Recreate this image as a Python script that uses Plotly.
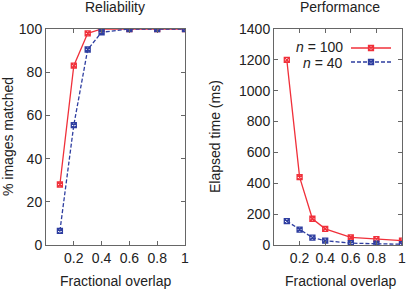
import plotly.graph_objects as go

overlap = [0.1, 0.2, 0.3, 0.4, 0.6, 0.8, 1.0]
rel_n100 = [28, 83, 98, 100, 100, 100, 100]
rel_n40 = [6.5, 55.5, 90.5, 98.5, 100, 100, 100]
perf_n100 = [1200, 440, 170, 105, 50, 38, 28]
perf_n40 = [155, 100, 48, 28, 12, 8, 5]
x_ticks = [0.2, 0.4, 0.6, 0.8, 1.0]
x_ticklabels = ["0.2", "0.4", "0.6", "0.8", "1"]
series_names = ["<i>n</i> = 100", "<i>n</i> = 40"]

RED = "#f0303a"
BLUE = "#2e3ea0"
FONT = "Liberation Sans, Arial, sans-serif"
FS = 14

fig = go.Figure()
mk = dict(symbol="square-x-open", size=5, line=dict(width=1.3))
solid = dict(color=RED, width=1.3)
dashed = dict(color=BLUE, width=1.3, dash="4px,2px")
fig.add_trace(go.Scatter(x=overlap, y=rel_n100, mode="lines+markers", xaxis="x", yaxis="y",
                         line=solid, marker=dict(color=RED, **mk), showlegend=False))
fig.add_trace(go.Scatter(x=overlap, y=rel_n40, mode="lines+markers", xaxis="x", yaxis="y",
                         line=dashed, marker=dict(color=BLUE, **mk), showlegend=False))
fig.add_trace(go.Scatter(x=overlap, y=perf_n100, mode="lines+markers", xaxis="x2", yaxis="y2",
                         line=solid, marker=dict(color=RED, **mk), name="", showlegend=True, legend="legend"))
fig.add_trace(go.Scatter(x=overlap, y=perf_n40, mode="lines+markers", xaxis="x2", yaxis="y2",
                         line=dashed, marker=dict(color=BLUE, **mk), name="", showlegend=True, legend="legend2"))

axcommon = dict(showline=True, mirror="allticks", linecolor="#666", linewidth=1, ticks="inside",
                ticklen=4, tickcolor="#666", showgrid=False, zeroline=False, automargin=False,
                tickfont=dict(family=FONT, size=FS, color="#222"))

y_top = (290 - 29) / 290
y_bot = (290 - 245) / 290
leg = dict(x=346 / 407, xanchor="left", yanchor="middle", bgcolor="rgba(0,0,0,0)",
           font=dict(size=10), itemwidth=40, borderwidth=0)
fig.update_layout(
    width=407, height=290, margin=dict(l=0, r=0, t=0, b=0, autoexpand=False),
    paper_bgcolor="white", plot_bgcolor="white",
    font=dict(family=FONT, size=FS, color="#222"),
    xaxis=dict(domain=[46 / 407, 185 / 407], range=[0, 1], tickvals=x_ticks, ticktext=x_ticklabels, anchor="y", **axcommon),
    yaxis=dict(domain=[y_bot, y_top], range=[0, 100], dtick=20, anchor="x", **axcommon),
    xaxis2=dict(domain=[274 / 407, 402 / 407], range=[0, 1], tickvals=x_ticks, ticktext=x_ticklabels, anchor="y2", **axcommon),
    yaxis2=dict(domain=[y_bot, y_top], range=[0, 1400], dtick=200, anchor="x2", **axcommon),
    legend=dict(y=1 - 48 / 290, **leg),
    legend2=dict(y=1 - 62 / 290, **leg),
    showlegend=True,
)

ann = [
    dict(text="Reliability", x=115 / 407, y=1 - 7 / 290),
    dict(text="Performance", x=340 / 407, y=1 - 7 / 290),
    dict(text="Fractional overlap", x=115 / 407, y=1 - 281 / 290),
    dict(text="Fractional overlap", x=340 / 407, y=1 - 281 / 290),
    dict(text="% images matched", x=8 / 407, y=(1 - 137 / 290), textangle=-90),
    dict(text="Elapsed time (ms)", x=215 / 407, y=(1 - 137 / 290), textangle=-90),
]
for a in ann:
    fig.add_annotation(xref="paper", yref="paper", showarrow=False, font=dict(size=FS, family=FONT, color="#222"),
                       xanchor="center", yanchor="middle", **a)
for i, name in enumerate(series_names):
    fig.add_annotation(xref="paper", yref="paper", showarrow=False, text=name,
                       x=345 / 407, y=1 - (47 + 16 * i) / 290, xanchor="right", yanchor="middle",
                       font=dict(size=FS, family=FONT, color="#222"))

fig.write_html("out.html", config={"displayModeBar": False},
               post_script="document.body.style.margin='0';document.body.style.overflow='hidden';")
